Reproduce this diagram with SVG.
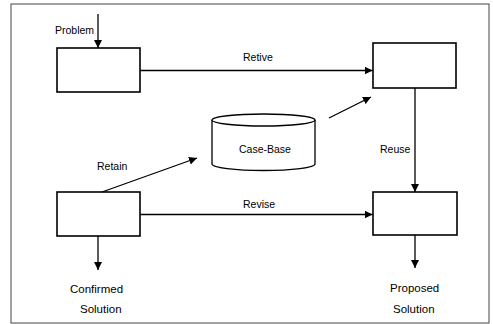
<svg xmlns="http://www.w3.org/2000/svg" width="493" height="324" viewBox="0 0 493 324">
  <defs>
    <marker id="arrow" viewBox="0 0 10 10" refX="10" refY="5" markerWidth="8" markerHeight="8" markerUnits="userSpaceOnUse" orient="auto">
      <path d="M0,0 L10,5 L0,10 z" fill="#000"/>
    </marker>
    <style>
      .frame { fill: #fff; stroke: #444; stroke-width: 1; }
      .box { fill: #fff; stroke: #000; stroke-width: 1.6; }
      .cyl { fill: #fff; stroke: #000; stroke-width: 1.3; }
      .edge { fill: none; stroke: #000; stroke-width: 1.3; marker-end: url(#arrow); }
      .lbl { font-family: "Liberation Sans", Arial, sans-serif; font-size: 10.5px; fill: #000; }
      .out { font-family: "Liberation Sans", Arial, sans-serif; font-size: 11.5px; fill: #000; }
    </style>
  </defs>

  <rect class="frame" x="11" y="4" width="478" height="319"/>

  <!-- process steps -->
  <g id="problem-step">
    <rect class="box" x="57" y="48" width="83" height="44"/>
  </g>
  <g id="retrieved-case">
    <rect class="box" x="373" y="43" width="83" height="45"/>
  </g>
  <g id="tested-case">
    <rect class="box" x="57" y="192" width="83" height="44"/>
  </g>
  <g id="solved-case">
    <rect class="box" x="373" y="192" width="84" height="43"/>
  </g>
  <g id="case-base">
    <path class="cyl" d="M212,120 L212,164 A51.5,6.5 0 0 0 315,164 L315,120"/>
    <ellipse class="cyl" cx="263.5" cy="120" rx="51.5" ry="6"/>
    <text class="lbl" x="265" y="153" text-anchor="middle">Case-Base</text>
  </g>

  <!-- connectors -->
  <g id="connectors">
    <line class="edge" x1="98" y1="14" x2="98" y2="48"/>
    <line class="edge" x1="140" y1="70.5" x2="372.5" y2="70.5"/>
    <line class="edge" x1="329" y1="118" x2="371" y2="97"/>
    <line class="edge" x1="415" y1="88" x2="415" y2="192"/>
    <line class="edge" x1="102" y1="192" x2="197" y2="158"/>
    <line class="edge" x1="140" y1="214.5" x2="372.5" y2="214.5"/>
    <line class="edge" x1="98" y1="236" x2="98" y2="270"/>
    <line class="edge" x1="415" y1="235" x2="415" y2="268"/>
  </g>

  <!-- labels -->
  <g id="labels">
    <text class="lbl" x="55" y="34">Problem</text>
    <text class="lbl" x="243" y="61">Retive</text>
    <text class="lbl" x="380" y="153">Reuse</text>
    <text class="lbl" x="97" y="170">Retain</text>
    <text class="lbl" x="243" y="208">Revise</text>
    <text class="out" x="70" y="293">Confirmed</text>
    <text class="out" x="80" y="313">Solution</text>
    <text class="out" x="390" y="292">Proposed</text>
    <text class="out" x="393" y="313">Solution</text>
  </g>
</svg>
